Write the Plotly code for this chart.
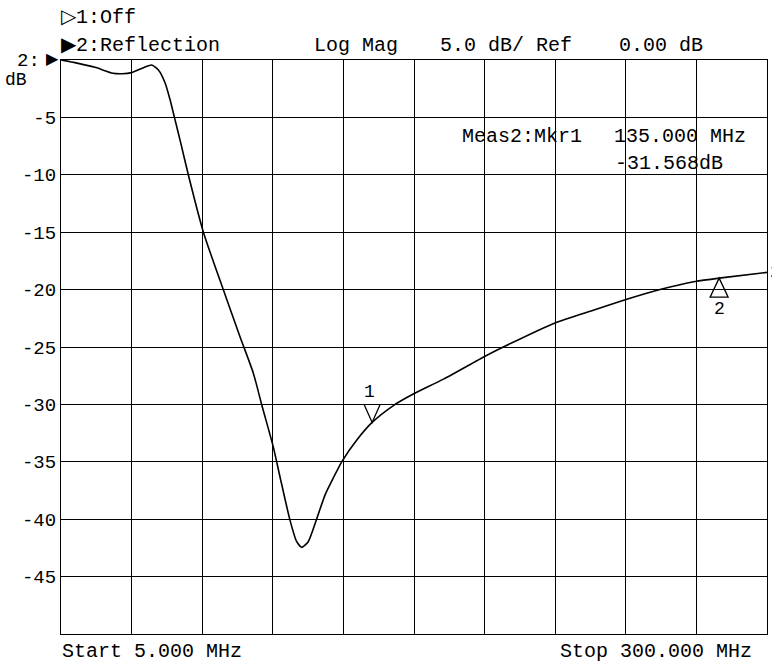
import plotly.graph_objects as go

# ---- data ----
freq_mhz = [5, 10.8, 19.2, 26.7, 30.5, 34.5, 38.7, 42.9, 45.7, 48.5, 50.5, 52.4,
            55.0, 58.2, 64.5, 72.8, 79.8, 85.4, 88.9, 93.7, 96.5, 100.7, 103.5,
            105.6, 108.3, 111.8, 115.3, 118.8, 122.3, 128.6, 135.0, 143.9, 152.2,
            164.8, 182.2, 189.8, 211.4, 227.4, 241.4, 255.3, 270.0, 280.0, 300.0]
refl_db = [0.0, -0.23, -0.64, -1.16, -1.2, -1.1, -0.73, -0.44, -0.87, -2.0, -3.4, -5.0,
           -7.2, -10.0, -15.0, -20.0, -24.1, -27.3, -30.05, -33.7, -36.3, -40.1, -41.96,
           -42.45, -41.96, -40.0, -37.9, -36.4, -35.0, -33.1, -31.57, -30.1, -29.1,
           -27.8, -25.8, -25.0, -22.9, -21.8, -20.85, -20.0, -19.3, -19.0, -18.5]
y_tick_vals = [-45, -40, -35, -30, -25, -20, -15, -10, -5]
y_tick_text = ["-45", "-40", "-35", "-30", "-25", "-20", "-15", "-10", "-5"]
mkr1_f, mkr1_db = 135.0, -31.568
mkr2_f, mkr2_db = 280.0, -19.0
start_f, stop_f = 5.0, 300.0
ref_db, scale_db = 0.0, 5.0

W, H = 772, 666
L, R, T, B = 61, 767, 60, 634
FONT = "Liberation Mono"

def px(x):
    return (x - L) / (R - L)

def py(y):
    return (B - y) / (B - T)

fig = go.Figure()
fig.add_trace(go.Scatter(x=freq_mhz, y=refl_db, mode="lines",
                         line=dict(color="black", width=1.6, shape="spline", smoothing=0.6),
                         hoverinfo="skip", showlegend=False))

shapes = [
    dict(type="path", xref="x", yref="y", xsizemode="pixel", ysizemode="pixel",
         xanchor=mkr1_f, yanchor=mkr1_db, path="M -8,18 L 0,0 L 8,18",
         line=dict(color="black", width=1.3)),
    dict(type="path", xref="x", yref="y", xsizemode="pixel", ysizemode="pixel",
         xanchor=mkr2_f, yanchor=mkr2_db, path="M 0,0 L -9,-19 L 9,-19 Z",
         line=dict(color="black", width=1.3)),
]

def txt(s, x, y, anchor="left", size=20, yanchor="middle"):
    return dict(text=s, xref="paper", yref="paper", x=px(x), y=py(y),
                xanchor=anchor, yanchor=yanchor, showarrow=False,
                font=dict(family=FONT, size=size, color="black"))

ann = [
    txt("▷1:Off", 59, 17),
    txt("▶2:Reflection", 59, 45),
    txt("Log Mag", 312, 45),
    txt(f"{scale_db:.1f} dB/ Ref", 438, 45),
    txt(f"{ref_db:.2f} dB", 617, 45),
    txt("Meas2:Mkr1", 460, 136),
    txt(f"{mkr1_f:.3f} MHz", 612, 136),
    txt(f"{mkr1_db:.3f}dB", 613, 163),
    txt(f"Start {start_f:.3f} MHz", 60, 665, yanchor="bottom"),
    txt(f"Stop {stop_f:.3f} MHz", 558, 665, yanchor="bottom"),
    txt("2:", 42, 61, anchor="right", size=19),
    txt("▶", 61, 60, anchor="right", size=16),
    txt("dB", 3, 80, size=18),
    dict(text="1", x=mkr1_f, y=mkr1_db, xref="x", yref="y", yanchor="bottom",
         xanchor="center", yshift=18, xshift=-3, showarrow=False,
         font=dict(family=FONT, size=18, color="black")),
    dict(text="2", x=mkr2_f, y=mkr2_db, xref="x", yref="y", yanchor="top",
         xanchor="center", yshift=-19, showarrow=False,
         font=dict(family=FONT, size=18, color="black")),
    dict(text="2", x=freq_mhz[-1], y=refl_db[-1], xref="x", yref="y", yanchor="middle",
         xanchor="left", xshift=1, showarrow=False,
         font=dict(family=FONT, size=18, color="black")),
]

fig.update_layout(
    width=W, height=H, margin=dict(l=L, r=W - R, t=T, b=H - B),
    paper_bgcolor="white", plot_bgcolor="white",
    shapes=shapes, annotations=ann, showlegend=False,
    xaxis=dict(range=[start_f, stop_f], tick0=start_f, dtick=(stop_f - start_f) / 10,
               showgrid=True, gridcolor="black", gridwidth=1, showticklabels=False,
               ticks="", zeroline=False, showline=True, mirror=True,
               linecolor="black", linewidth=1.2),
    yaxis=dict(range=[-50, 0], tickvals=y_tick_vals, ticktext=y_tick_text,
               showgrid=True, gridcolor="black", gridwidth=1, ticks="",
               zeroline=False, showline=True, mirror=True, linecolor="black",
               linewidth=1.2, tickfont=dict(family=FONT, size=19, color="black")),
)

fig.write_html("out.html")
